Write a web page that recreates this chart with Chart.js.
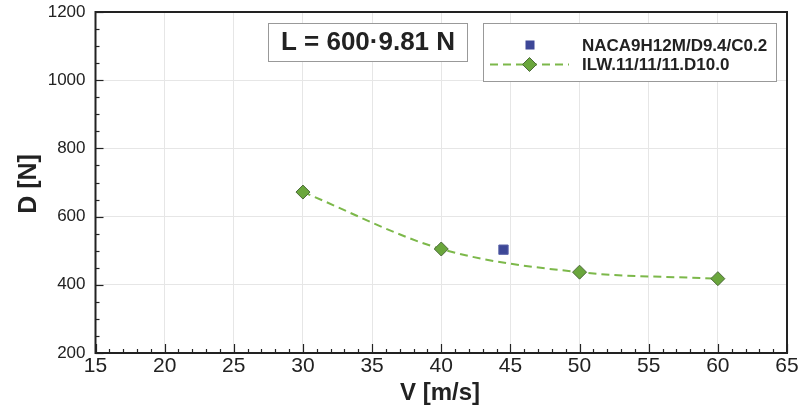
<!DOCTYPE html>
<html>
<head>
<meta charset="utf-8">
<script src="https://cdn.jsdelivr.net/npm/chart.js@4.4.1/dist/chart.umd.min.js"></script>
<style>
  html, body { margin: 0; padding: 0; background: #fff; }
  #grafico { display: block; }
</style>
</head>
<body>
<canvas id="grafico" width="800" height="409"></canvas>
<script>
// Datos
const velocidadILW = [30, 40, 50, 60];
const arrastreILW = [672, 505, 437, 418];
const velocidadNACA = [44.5];
const arrastreNACA = [503];
const ticksX = [15, 20, 25, 30, 35, 40, 45, 50, 55, 60, 65];
const ticksY = [200, 400, 600, 800, 1000, 1200];
const etiquetas = ['NACA9H12M/D9.4/C0.2', 'ILW.11/11/11.D10.0'];
const textoCarga = 'L = 600\u00b79.81 N';

const verde = '#7cb84a';
const verdeRelleno = '#6aa63c';
const azul = '#3d4797';
const fuenteBase = '"Liberation Sans", Arial, sans-serif';

// Plugin para marco, ticks menores, titulos, leyenda y cuadro de texto
const extras = {
    id: 'extras',
    afterDraw(chart) {
        const ctx = chart.ctx;
        const area = chart.chartArea;
        const sx = chart.scales.x;
        const sy = chart.scales.y;
        ctx.save();

        // ticks hacia dentro
        ctx.strokeStyle = '#222';
        ctx.lineWidth = 1.2;
        for (let v = 15; v <= 65; v += 1) {
            const px = Math.round(sx.getPixelForValue(v)) + 0.5;
            const largo = v % 5 === 0 ? 9 : 4;
            ctx.beginPath();
            ctx.moveTo(px, area.bottom);
            ctx.lineTo(px, area.bottom - largo);
            ctx.stroke();
        }
        for (let v = 200; v <= 1200; v += 50) {
            const py = Math.round(sy.getPixelForValue(v)) + 0.5;
            const largo = v % 200 === 0 ? 8 : 4;
            ctx.beginPath();
            ctx.moveTo(area.left, py);
            ctx.lineTo(area.left + largo, py);
            ctx.stroke();
        }

        // marco
        ctx.strokeStyle = '#222';
        ctx.lineWidth = 2;
        ctx.strokeRect(area.left, area.top, area.right - area.left, area.bottom - area.top);

        // titulos de ejes
        ctx.fillStyle = '#222';
        ctx.font = 'bold 24px ' + fuenteBase;
        ctx.textAlign = 'center';
        ctx.textBaseline = 'middle';
        ctx.fillText('V [m/s]', 440, 393);
        ctx.save();
        ctx.translate(29, 184);
        ctx.rotate(-Math.PI / 2);
        ctx.font = 'bold 25px ' + fuenteBase;
        ctx.fillText('D [N]', 0, 0);
        ctx.restore();

        // cuadro de carga
        ctx.fillStyle = '#fff';
        ctx.fillRect(268.5, 23.5, 199, 38);
        ctx.strokeStyle = '#999';
        ctx.lineWidth = 1;
        ctx.strokeRect(268.5, 23.5, 199, 38);
        ctx.fillStyle = '#222';
        ctx.font = 'bold 26px ' + fuenteBase;
        ctx.fillText(textoCarga, 368, 43);

        // leyenda
        ctx.fillStyle = '#fff';
        ctx.fillRect(483.5, 23.5, 293, 58);
        ctx.strokeStyle = '#999';
        ctx.strokeRect(483.5, 23.5, 293, 58);

        ctx.fillStyle = azul;
        ctx.fillRect(525.5, 40.5, 9, 9);

        ctx.strokeStyle = verde;
        ctx.lineWidth = 2;
        ctx.setLineDash([8, 5]);
        ctx.beginPath();
        ctx.moveTo(490, 64.5);
        ctx.lineTo(569, 64.5);
        ctx.stroke();
        ctx.setLineDash([]);
        ctx.fillStyle = verdeRelleno;
        ctx.strokeStyle = '#4c6a3a';
        ctx.lineWidth = 1;
        ctx.beginPath();
        ctx.moveTo(529.5, 57.5);
        ctx.lineTo(536.5, 64.5);
        ctx.lineTo(529.5, 71.5);
        ctx.lineTo(522.5, 64.5);
        ctx.closePath();
        ctx.fill();
        ctx.stroke();

        ctx.fillStyle = '#222';
        ctx.font = 'bold 17px ' + fuenteBase;
        ctx.textAlign = 'left';
        ctx.fillText(etiquetas[0], 582, 46);
        ctx.fillText(etiquetas[1], 582, 65);

        ctx.restore();
    }
};

const ctx = document.getElementById('grafico').getContext('2d');
const graficoChart = new Chart(ctx, {
    type: 'scatter',
    data: {
        datasets: [{
            label: etiquetas[0],
            data: velocidadNACA.map((v, i) => ({ x: v, y: arrastreNACA[i] })),
            pointStyle: 'rect',
            pointRadius: 6.6,
            backgroundColor: azul,
            borderColor: '#5a63a8',
            borderWidth: 1,
            showLine: false
        }, {
            label: etiquetas[1],
            data: velocidadILW.map((v, i) => ({ x: v, y: arrastreILW[i] })),
            showLine: true,
            borderColor: verde,
            borderWidth: 2,
            borderDash: [8, 5],
            cubicInterpolationMode: 'monotone',
            pointStyle: 'rectRot',
            pointRadius: 7,
            pointBackgroundColor: verdeRelleno,
            pointBorderColor: '#4c6a3a',
            pointBorderWidth: 1,
            fill: false
        }]
    },
    options: {
        responsive: false,
        animation: false,
        layout: { padding: { top: 12, right: 13, left: 0, bottom: 0 } },
        plugins: {
            legend: { display: false },
            tooltip: { enabled: false }
        },
        scales: {
            x: {
                type: 'linear',
                min: 15,
                max: 65,
                afterBuildTicks: scale => { scale.ticks = ticksX.map(v => ({ value: v })); },
                afterFit: scale => {
                    scale.height = 56;
                    scale.paddingLeft = 0;
                    scale.paddingRight = 0;
                },
                grid: { color: '#e6e6e6', lineWidth: 1, drawTicks: false },
                border: { display: false },
                ticks: {
                    padding: 1,
                    color: '#222',
                    maxRotation: 0,
                    font: { family: fuenteBase, size: 21 }
                }
            },
            y: {
                type: 'linear',
                min: 200,
                max: 1200,
                afterBuildTicks: scale => { scale.ticks = ticksY.map(v => ({ value: v })); },
                afterFit: scale => {
                    scale.width = 95.5;
                    scale.paddingTop = 0;
                    scale.paddingBottom = 0;
                },
                grid: { color: '#e6e6e6', lineWidth: 1, drawTicks: false },
                border: { display: false },
                ticks: {
                    padding: 10,
                    color: '#222',
                    callback: v => String(v),
                    font: { family: fuenteBase, size: 17 }
                }
            }
        }
    },
    plugins: [extras]
});
</script>
</body>
</html>
